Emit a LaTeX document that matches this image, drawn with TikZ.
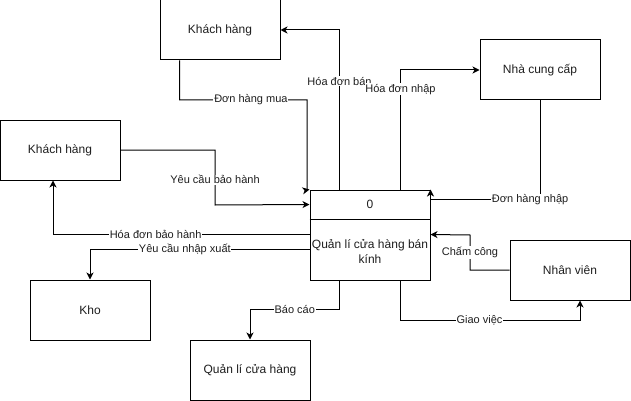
\documentclass[tikz,border=0pt]{standalone}
\usepackage{fontspec}
\setmainfont{Liberation Sans}
\usetikzlibrary{arrows.meta,calc}
\definecolor{dfdedge}{RGB}{0,0,0}
\definecolor{dfdink}{RGB}{30,30,30}
\tikzset{
  dfdbox/.style={
    draw=dfdedge, line width=1pt, inner sep=0pt,
    minimum width=120pt, minimum height=60pt,
    align=center, text=dfdink, font=\fontsize{12}{15}\selectfont
  },
  ent/.style={dfdbox},
  proc/.style={dfdbox, minimum height=90pt},
  arr/.style={-{Stealth[length=7pt,width=7pt,inset=2pt]}, draw=dfdedge, line width=1pt},
  lbl/.style={fill=white, inner sep=0.8pt, text=dfdink, font=\fontsize{11}{13}\selectfont}
}
\begin{document}
\begin{tikzpicture}[x=1pt,y=-1pt]
  \useasboundingbox (0,0) rectangle (631,401);
  % external entities
  \node[ent] (kh1) at (220,30) {Khách hàng};
  \node[ent] (kh2) at (60,150) {Khách hàng};
  \node[ent] (ncc) at (540,70) {Nhà cung cấp};
  \node[ent] (nv) at (570,270) {Nhân viên};
  \node[ent] (kho) at (90,310) {Kho};
  \node[ent] (qlch) at (250,370) {Quản lí cửa hàng};
  % process 0
  \node[proc] (p) at (370,235) {};
  \draw[line width=1pt] ($(p.north west)+(0,30)$) -- ($(p.north east)+(0,30)$);
  \node[font=\fontsize{12}{15}\selectfont, text=dfdink] (pnum) at ($(p.north)+(0,15)$) {0};
  \node[font=\fontsize{12}{15}\selectfont, text=dfdink, align=center] (pname) at ($(p.center)+(0,16)$) {Quản lí cửa hàng bán\\kính};
  % flows
  \draw[arr] ($(kh1.south west)+(20,0)$) |- (307,100) node[lbl, pos=0.78] {Đơn hàng mua} -- (307,190) -- (p.north west);
  \draw[arr] (kh2.east) -| (215,205) node[lbl, pos=0.77] {Yêu cầu bảo hành} -- ($(p.north west)+(0,15)$);
  \draw[arr] ($(p.north west)+(30,0)$) |- (kh1.east) node[lbl, pos=0.34] {Hóa đơn bán};
  \draw[arr] ($(p.north east)+(-30,0)$) |- (ncc.west) node[lbl, pos=0.42] {Hóa đơn nhập};
  \draw[arr] (ncc.south) |- ($(p.north east)+(0,10)$) node[lbl, pos=0.545] {Đơn hàng nhập} -- (p.north east);
  \draw[arr] (nv.west) -| (470,235) node[lbl, pos=0.75] {Chấm công} -- ($(p.north east)+(0,45)$);
  \draw[arr] ($(p.south east)+(-30,0)$) |- ($(nv.south)+(10,20)$) node[lbl, pos=0.72] {Giao việc} -- ($(nv.south)+(10,0)$);
  \draw[arr] ($(p.north west)+(0,45)$) -| ($(kh2.south)+(-7,0)$) node[lbl, pos=0.3] {Hóa đơn bảo hành};
  \draw[arr] ($(p.north west)+(0,60)$) -| (kho.north) node[lbl, pos=0.284] {Yêu cầu nhập xuất};
  \draw[arr] ($(p.south west)+(30,0)$) |- ($(qlch.north)+(0,-30)$) node[lbl, pos=0.75] {Báo cáo} -- (qlch.north);
\end{tikzpicture}
\end{document}
